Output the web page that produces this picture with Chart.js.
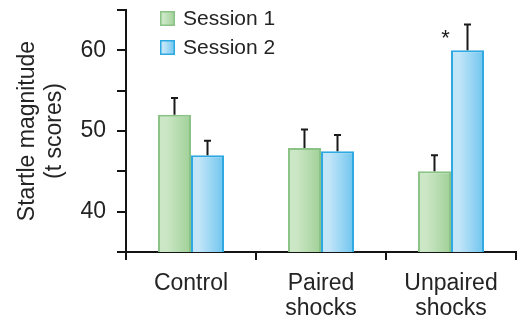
<!DOCTYPE html>
<html>
<head>
<meta charset="utf-8">
<script src="https://cdn.jsdelivr.net/npm/chart.js@4/dist/chart.umd.min.js"></script>
<style>
  html, body { margin: 0; padding: 0; background: #ffffff; }
  canvas { display: block; }
</style>
</head>
<body>
<canvas id="startle" width="517" height="322"></canvas>
<script>
// Startle magnitude (t scores) by condition, two sessions
const categories = [['Control'], ['Paired', 'shocks'], ['Unpaired', 'shocks']];
const seriesNames = ['Session 1', 'Session 2'];
const session1 = [52, 47.9, 45];
const session2 = [47, 47.5, 60];
const session1Err = [2.1, 2.3, 2.0];
const session2Err = [1.8, 2.0, 3.2];
const session2Marks = ['', '', '*'];
const yTickLabels = [40, 50, 60];

const FONT = '"Liberation Sans", Arial, Helvetica, sans-serif';
const TEXT = '#242424';
const AXIS = '#141414';
const GROUP_SHARE = 0.508;

const palette = [
  { light: '#cce7c6', dark: '#a0d097', border: '#8bc286' },
  { light: '#c2e5f8', dark: '#6ec5ef', border: '#2fa9e1' }
];

Chart.defaults.font.family = FONT;
Chart.defaults.color = TEXT;

function gradientBetween(ctx, left, right, pal) {
  const g = ctx.createLinearGradient(left, 0, right, 0);
  g.addColorStop(0, pal.light);
  g.addColorStop(0.25, pal.light);
  g.addColorStop(1, pal.dark);
  return g;
}

// Horizontal shading across each bar, placed from the category scale
function barFill(context) {
  const pal = palette[context.datasetIndex];
  const chart = context.chart;
  const xs = chart.scales.x;
  if (!xs || context.type !== 'data' || !isFinite(xs.getPixelForValue(0))) return pal.dark;
  const step = xs.getPixelForValue(1) - xs.getPixelForValue(0);
  const size = step * GROUP_SHARE;
  const chunk = size / 2;
  const left = xs.getPixelForValue(context.dataIndex) - size / 2 + chunk * context.datasetIndex;
  return gradientBetween(chart.ctx, left, left + chunk, pal);
}

// Error whiskers and significance marks above the bars
const errorBars = {
  id: 'errorBars',
  afterDatasetsDraw(chart) {
    const { ctx } = chart;
    const ys = chart.scales.y;
    chart.data.datasets.forEach((ds, di) => {
      const meta = chart.getDatasetMeta(di);
      meta.data.forEach((bar, i) => {
        const top = ys.getPixelForValue(ds.data[i] + ds.errors[i]);
        ctx.save();
        ctx.strokeStyle = '#1a1a1a';
        ctx.lineWidth = 2;
        ctx.beginPath();
        ctx.moveTo(bar.x, bar.y);
        ctx.lineTo(bar.x, top);
        ctx.moveTo(bar.x - 3.5, top);
        ctx.lineTo(bar.x + 3.5, top);
        ctx.stroke();
        if (ds.marks && ds.marks[i]) {
          ctx.fillStyle = '#1a1a1a';
          ctx.font = '22px ' + FONT;
          ctx.textAlign = 'center';
          ctx.textBaseline = 'alphabetic';
          ctx.fillText(ds.marks[i], bar.x - 22, top + 20);
        }
        ctx.restore();
      });
    });
  }
};

// Stacked legend inside the plot, upper left
const insideLegend = {
  id: 'insideLegend',
  afterDraw(chart) {
    const { ctx, chartArea } = chart;
    const x0 = chartArea.left + 34;
    chart.data.datasets.forEach((ds, di) => {
      const y0 = chartArea.top + 1 + di * 29;
      const pal = palette[di];
      ctx.save();
      ctx.fillStyle = gradientBetween(ctx, x0, x0 + 15, pal);
      ctx.fillRect(x0, y0, 15, 15);
      ctx.strokeStyle = pal.border;
      ctx.lineWidth = 1.5;
      ctx.strokeRect(x0 + 0.75, y0 + 0.75, 13.5, 13.5);
      ctx.fillStyle = TEXT;
      ctx.font = '21px ' + FONT;
      ctx.textAlign = 'left';
      ctx.textBaseline = 'middle';
      ctx.fillText(ds.label, x0 + 23, y0 + 8);
      ctx.restore();
    });
  }
};

new Chart(document.getElementById('startle'), {
  type: 'bar',
  data: {
    labels: categories,
    datasets: [
      {
        label: seriesNames[0],
        data: session1,
        errors: session1Err,
        backgroundColor: barFill,
        borderColor: palette[0].border,
        borderWidth: 2
      },
      {
        label: seriesNames[1],
        data: session2,
        errors: session2Err,
        marks: session2Marks,
        backgroundColor: barFill,
        borderColor: palette[1].border,
        borderWidth: 2
      }
    ]
  },
  options: {
    responsive: false,
    animation: false,
    devicePixelRatio: 1,
    layout: { padding: { top: 10, right: 1, left: 0, bottom: 0 } },
    datasets: { bar: { categoryPercentage: GROUP_SHARE, barPercentage: 1 } },
    plugins: {
      legend: { display: false },
      tooltip: { enabled: false }
    },
    scales: {
      x: {
        grid: { offset: true, drawOnChartArea: false, tickLength: 8, color: AXIS, lineWidth: 2 },
        border: { color: AXIS, width: 2 },
        ticks: {
          color: TEXT,
          font: { size: 23, lineHeight: 1.05 },
          padding: 12,
          maxRotation: 0,
          autoSkip: false
        },
        afterFit(scale) { scale.height = 70; scale.paddingLeft = 0; scale.paddingRight = 0; }
      },
      y: {
        min: 35,
        max: 65,
        grid: { drawOnChartArea: false, tickLength: 9, color: AXIS, lineWidth: 2 },
        border: { color: AXIS, width: 2 },
        ticks: {
          stepSize: 5,
          color: TEXT,
          font: { size: 23 },
          padding: 11,
          callback: v => (yTickLabels.includes(v) ? String(v) : '')
        },
        title: {
          display: true,
          text: ['Startle magnitude', '(t scores)'],
          color: TEXT,
          font: { size: 23, lineHeight: 1.17 },
          padding: { top: 14, bottom: 0 }
        },
        afterFit(scale) { scale.width = 126; scale.paddingTop = 0; scale.paddingBottom = 0; }
      }
    }
  },
  plugins: [errorBars, insideLegend]
});
</script>
</body>
</html>
